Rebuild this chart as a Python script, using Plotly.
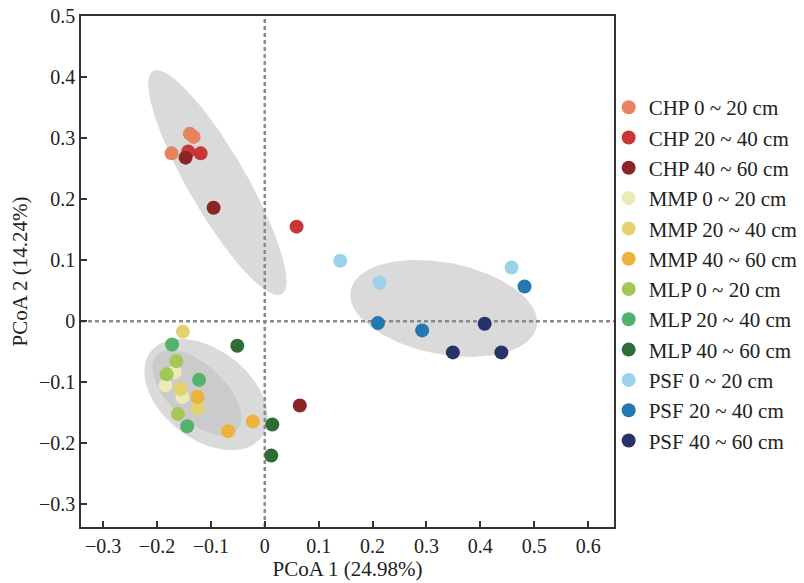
import numpy as np
import plotly.graph_objects as go

# ---------------- data ----------------
series_names = [
    "CHP 0 ~ 20 cm", "CHP 20 ~ 40 cm", "CHP 40 ~ 60 cm",
    "MMP 0 ~ 20 cm", "MMP 20 ~ 40 cm", "MMP 40 ~ 60 cm",
    "MLP 0 ~ 20 cm", "MLP 20 ~ 40 cm", "MLP 40 ~ 60 cm",
    "PSF 0 ~ 20 cm", "PSF 20 ~ 40 cm", "PSF 40 ~ 60 cm",
]
series_colors = [
    "#E8835F", "#C8363A", "#8A2428",
    "#EBEBBA", "#E4D36C", "#EDB23C",
    "#A3C857", "#55B26D", "#2E6D36",
    "#9DD0EA", "#2478B1", "#243468",
]
pc1 = [
    [-0.173, -0.139, -0.132],
    [-0.119, -0.142, 0.059],
    [-0.147, -0.095, 0.065],
    [-0.167, -0.184, -0.153],
    [-0.152, -0.156, -0.125],
    [-0.125, -0.068, -0.022],
    [-0.164, -0.182, -0.161],
    [-0.172, -0.122, -0.144],
    [-0.051, 0.014, 0.012],
    [0.140, 0.213, 0.458],
    [0.482, 0.210, 0.292],
    [0.408, 0.349, 0.439],
]
pc2 = [
    [0.275, 0.307, 0.302],
    [0.275, 0.278, 0.155],
    [0.268, 0.186, -0.138],
    [-0.083, -0.105, -0.124],
    [-0.017, -0.111, -0.142],
    [-0.124, -0.180, -0.164],
    [-0.065, -0.087, -0.152],
    [-0.038, -0.096, -0.172],
    [-0.040, -0.169, -0.220],
    [0.099, 0.063, 0.088],
    [0.057, -0.003, -0.015],
    [-0.004, -0.051, -0.051],
]
x_ticks = [-0.3, -0.2, -0.1, 0, 0.1, 0.2, 0.3, 0.4, 0.5, 0.6]
y_ticks = [-0.3, -0.2, -0.1, 0, 0.1, 0.2, 0.3, 0.4, 0.5]
x_title = "PCoA 1 (24.98%)"
y_title = "PCoA 2 (14.24%)"

# confidence ellipses: centre x, centre y, semi-axis a, semi-axis b (x-units), angle (deg, on screen)
ellipse_cx = [-0.088, -0.109, -0.126, 0.332]
ellipse_cy = [0.227, -0.120, -0.117, 0.021]
ellipse_a = [0.239, 0.130, 0.102, 0.176]
ellipse_b = [0.054, 0.083, 0.052, 0.085]
ellipse_ang = [120, -38, -43, -11]

# ---------------- layout geometry ----------------
W, H = 804, 583
ML, MR, MT, MB = 81, 190, 16, 56
XR = [-0.341, 0.648]
YR = [-0.337, 0.5]
px_x = (W - ML - MR) / (XR[1] - XR[0])
px_y = (H - MT - MB) / (YR[1] - YR[0])

FONT = "Liberation Serif, Times New Roman, serif"
AX = "#333333"

fig = go.Figure()

# ellipses
t = np.linspace(0, 2 * np.pi, 240)
for cx, cy, a, b, ang in zip(ellipse_cx, ellipse_cy, ellipse_a, ellipse_b, ellipse_ang):
    th = np.deg2rad(ang)
    X = a * np.cos(t) * np.cos(th) - b * np.sin(t) * np.sin(th)
    Y = a * np.cos(t) * np.sin(th) + b * np.sin(t) * np.cos(th)
    fig.add_trace(go.Scatter(
        x=cx + X, y=cy + Y * px_x / px_y, mode="lines", fill="toself",
        fillcolor="rgba(193,193,193,0.6)", line=dict(width=0),
        hoverinfo="skip", showlegend=False))

# dashed reference lines at 0
dash_style = dict(color="#8a8a8a", width=2.5, dash="4px,3px")
fig.add_trace(go.Scatter(x=XR, y=[0, 0], mode="lines", line=dash_style,
                         hoverinfo="skip", showlegend=False))
fig.add_trace(go.Scatter(x=[0, 0], y=YR, mode="lines", line=dash_style,
                         hoverinfo="skip", showlegend=False))

# points
for name, col, xs, ys in zip(series_names, series_colors, pc1, pc2):
    fig.add_trace(go.Scatter(
        x=xs, y=ys, mode="markers", name=name,
        marker=dict(size=14, color=col, line=dict(width=0))))

axis_common = dict(
    showgrid=False, zeroline=False, showline=True, linecolor=AX, linewidth=1.5,
    mirror=True, ticks="inside", ticklen=6, tickwidth=1.5, tickcolor=AX,
    tickfont=dict(family=FONT, size=20, color="#222"),
    title_font=dict(family=FONT, size=21, color="#222"),
)

fig.update_layout(
    width=W, height=H,
    margin=dict(l=ML, r=MR, t=MT, b=MB, autoexpand=False),
    paper_bgcolor="white", plot_bgcolor="white",
    font=dict(family=FONT, color="#222"),
    xaxis=dict(range=XR, tickvals=x_ticks, ticktext=[f"{v:g}".replace("-", "\u2212") for v in x_ticks],
               title=dict(text=x_title, standoff=4), **axis_common),
    yaxis=dict(range=YR, tickvals=y_ticks, ticktext=[f"{v:g}".replace("-", "\u2212") for v in y_ticks],
               title=dict(text=y_title, standoff=6), **axis_common),
    legend=dict(x=0.99, xanchor="left", y=0.861, yanchor="top",
                font=dict(family=FONT, size=21, color="#222"),
                bgcolor="rgba(0,0,0,0)", tracegroupgap=0),
    showlegend=True,
)

fig.write_html("out.html")
